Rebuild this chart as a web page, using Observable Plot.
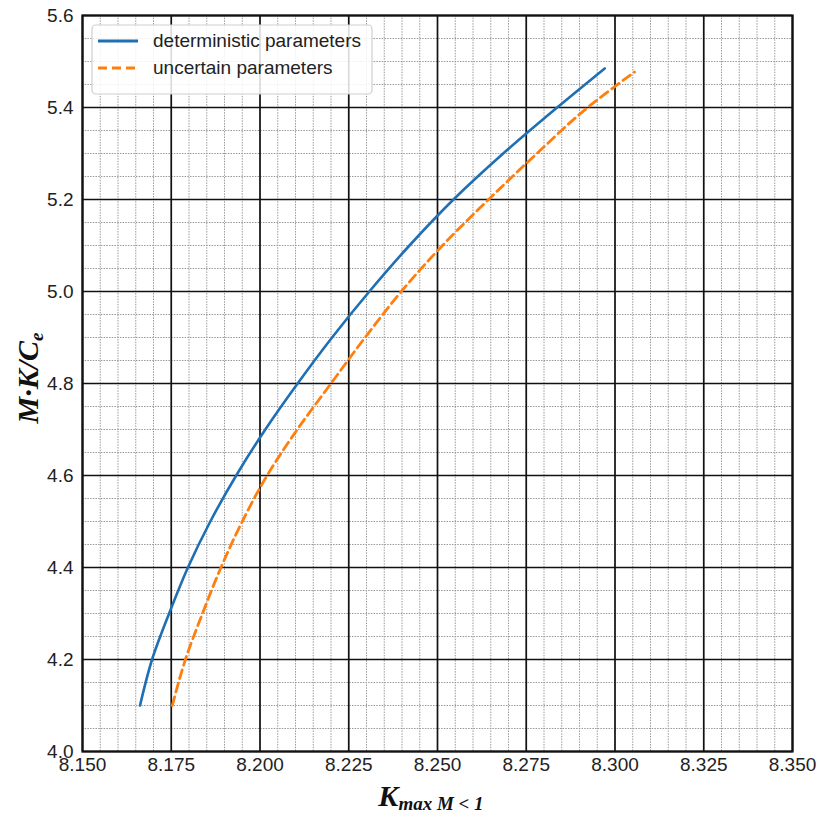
<!DOCTYPE html>
<html>
<head>
<meta charset="utf-8">
<script src="https://cdn.jsdelivr.net/npm/d3@7"></script>
<script src="https://cdn.jsdelivr.net/npm/@observablehq/plot@0.6"></script>
<style>
  html, body { margin: 0; padding: 0; background: #fff; }
</style>
</head>
<body>
<div id="chart"></div>
<script>
// ---- data ----
const seriesNames = ["deterministic parameters", "uncertain parameters"];
const detX = [8.1662, 8.1696, 8.1744, 8.1797, 8.1860, 8.1933, 8.2015, 8.2106, 8.2203, 8.2308, 8.2421, 8.2545, 8.2685, 8.2837, 8.2971];
const detY = [4.10,   4.20,   4.30,   4.40,   4.50,   4.60,   4.70,   4.80,   4.90,   5.00,   5.10,   5.20,   5.30,   5.40,   5.485];
const uncX = [8.1753, 8.1790, 8.1838, 8.1890, 8.1950, 8.2020, 8.2105, 8.2200, 8.2296, 8.2398, 8.2514, 8.2644, 8.2780, 8.2923, 8.3055];
const uncY = [4.10,   4.20,   4.30,   4.40,   4.50,   4.60,   4.70,   4.80,   4.90,   5.00,   5.10,   5.20,   5.30,   5.40,   5.477];
const xTicks = [8.150, 8.175, 8.200, 8.225, 8.250, 8.275, 8.300, 8.325, 8.350];
const yTicks = [4.0, 4.2, 4.4, 4.6, 4.8, 5.0, 5.2, 5.4, 5.6];
const xMinor = d3.range(0, 41).map(i => 8.15 + i * 0.005);
const yMinor = d3.range(0, 33).map(i => 4.0 + i * 0.05);

const detRows = detX.map((x, i) => ({x, y: detY[i]}));
const uncRows = uncX.map((x, i) => ({x, y: uncY[i]}));

const blue = "#1f6fb4";
const orange = "#ff7f0e";

const chart = Plot.plot({
  width: 819,
  height: 818,
  marginLeft: 82,
  marginRight: 27,
  marginTop: 15,
  marginBottom: 67,
  style: {fontFamily: "'Liberation Sans', Arial, sans-serif", color: "#222", background: "#fff"},
  x: {domain: [8.15, 8.35]},
  y: {domain: [4.0, 5.6]},
  marks: [
    Plot.ruleX(xMinor, {stroke: "#9a9a9a", strokeWidth: 1, strokeDasharray: "1.5,1.2"}),
    Plot.ruleY(yMinor, {stroke: "#9a9a9a", strokeWidth: 1, strokeDasharray: "1.5,1.2"}),
    Plot.ruleX(xTicks, {stroke: "#111", strokeWidth: 1.7}),
    Plot.ruleY(yTicks, {stroke: "#111", strokeWidth: 1.7}),
    Plot.line(detRows, {x: "x", y: "y", stroke: blue, strokeWidth: 2.6, curve: "monotone-y"}),
    Plot.line(uncRows, {x: "x", y: "y", stroke: orange, strokeWidth: 2.8, strokeDasharray: "9,5", curve: "monotone-y"}),
    Plot.frame({stroke: "#111", strokeWidth: 2.2}),
    Plot.axisX(xTicks, {tickSize: 0, tickPadding: 6, fontSize: 19, tickFormat: d => d.toFixed(3), label: null}),
    Plot.axisY(yTicks, {tickSize: 0, tickPadding: 9, fontSize: 19, tickFormat: d => d.toFixed(1), label: null})
  ]
});

document.getElementById("chart").appendChild(chart);
const svg = d3.select(chart);

// legend
const lg = svg.append("g").attr("text-anchor", "start");
lg.append("rect").attr("x", 92).attr("y", 25).attr("width", 280).attr("height", 69).attr("rx", 4)
  .attr("fill", "#fff").attr("fill-opacity", 0.85).attr("stroke", "#cfcfcf").attr("stroke-width", 1.2);
const legendItems = [
  {name: seriesNames[0], color: blue, dash: "none", y: 41},
  {name: seriesNames[1], color: orange, dash: "9,5", y: 68}
];
legendItems.forEach(it => {
  lg.append("path").attr("d", `M98,${it.y}H138`)
    .style("fill", "none").style("stroke", it.color).style("stroke-width", "2.8px")
    .style("stroke-dasharray", it.dash);
  lg.append("text").attr("x", 153).attr("y", it.y + 6).attr("font-size", 19)
    .attr("text-anchor", "start")
    .attr("font-family", "'Liberation Sans', Arial, sans-serif").attr("fill", "#222").text(it.name);
});

// x axis title
const xt = svg.append("text").attr("x", 431).attr("y", 806).attr("text-anchor", "middle")
  .attr("font-family", "'Liberation Serif', 'Times New Roman', serif")
  .attr("font-weight", "bold").attr("font-style", "italic").attr("fill", "#111");
xt.append("tspan").attr("font-size", 30).text("K");
xt.append("tspan").attr("font-size", 19).attr("dy", 4).text("max M < 1");

// y axis title
const yt = svg.append("text").attr("transform", "translate(38,378) rotate(-90)").attr("text-anchor", "middle")
  .attr("font-family", "'Liberation Serif', 'Times New Roman', serif")
  .attr("font-weight", "bold").attr("font-style", "italic").attr("fill", "#111");
yt.append("tspan").attr("font-size", 30).text("M·K/C");
yt.append("tspan").attr("font-size", 19).attr("dy", 5).text("e");
</script>
</body>
</html>
